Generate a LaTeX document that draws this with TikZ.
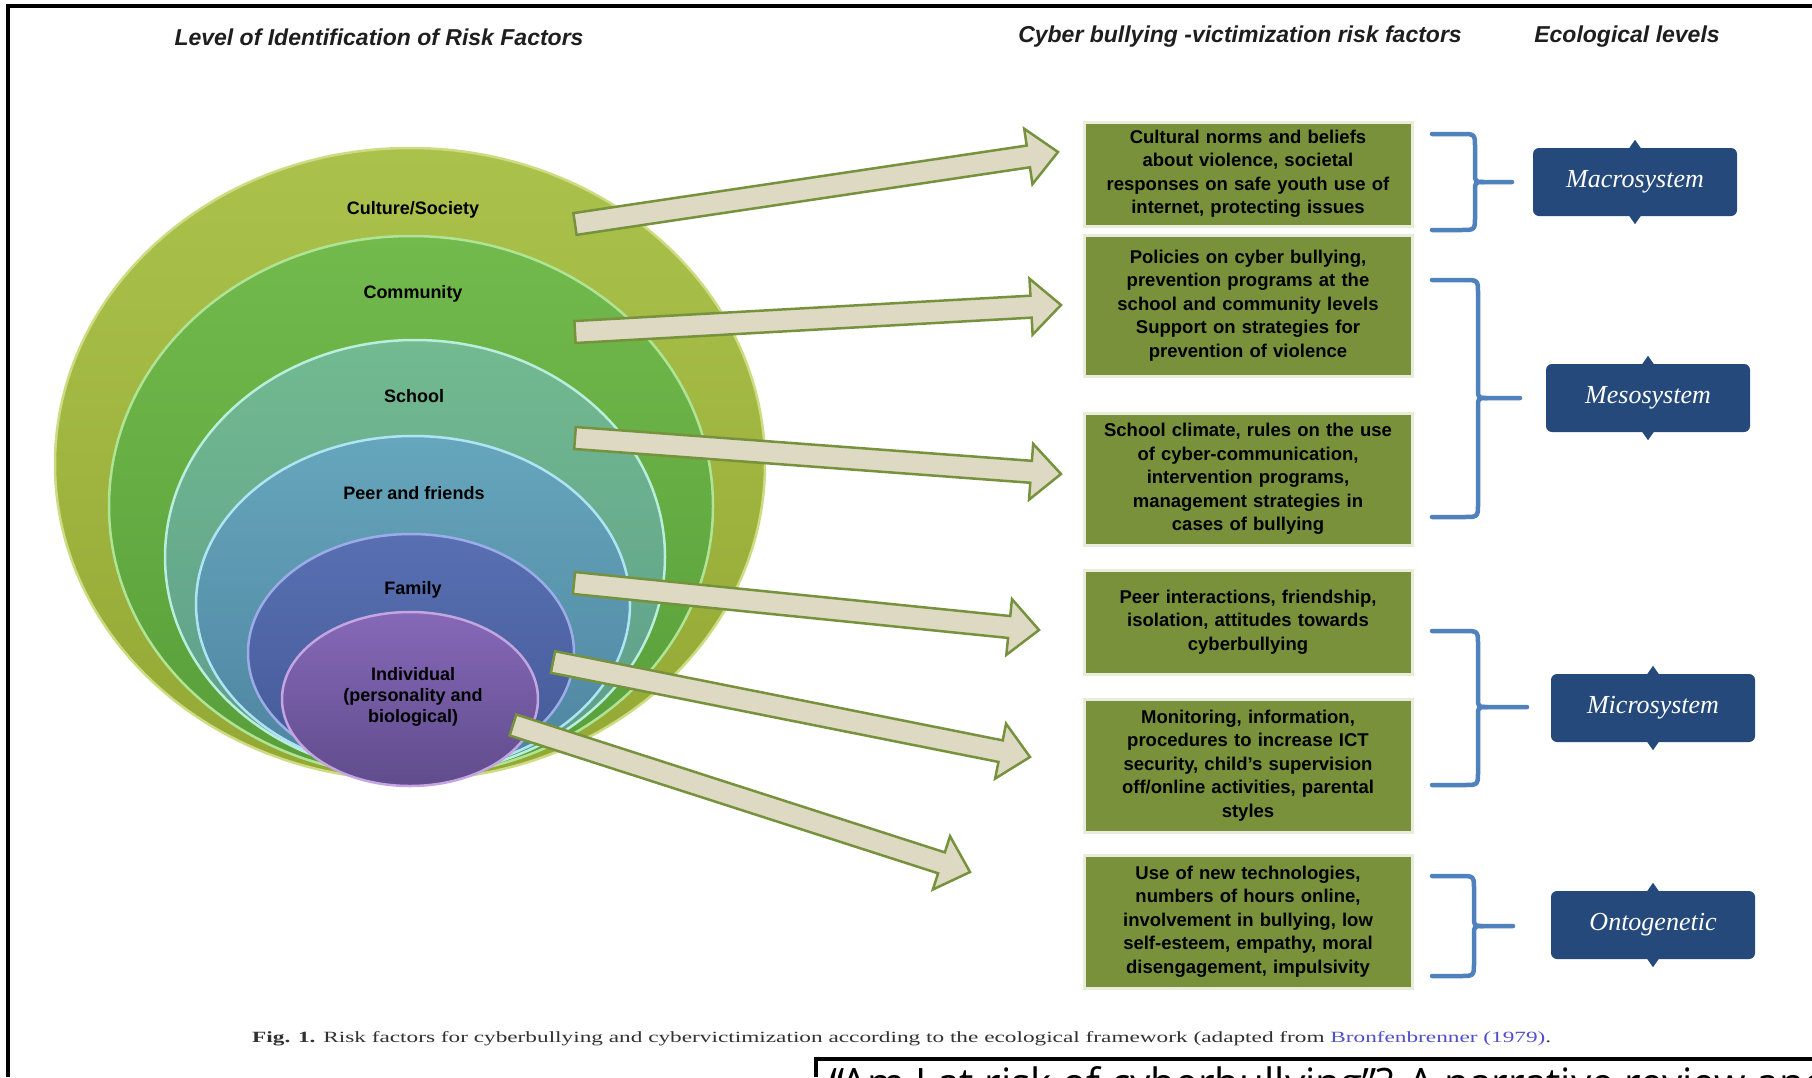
\documentclass[tikz,border=0pt]{standalone}
\usepackage{fontspec}
\setmainfont{Liberation Sans}
\newfontfamily\serifx{Liberation Serif}
\newfontfamily\opensans{Open Sans}
\usetikzlibrary{shapes.geometric,calc}
\definecolor{cAt}{RGB}{170,194,76}
\definecolor{cAb}{RGB}{148,168,52}
\definecolor{cAr}{RGB}{205,220,130}
\definecolor{cBt}{RGB}{114,186,76}
\definecolor{cBb}{RGB}{88,158,58}
\definecolor{cBr}{RGB}{175,228,150}
\definecolor{cCt}{RGB}{114,186,144}
\definecolor{cCb}{RGB}{92,156,138}
\definecolor{cCr}{RGB}{185,238,220}
\definecolor{cDt}{RGB}{102,166,188}
\definecolor{cDb}{RGB}{78,132,160}
\definecolor{cDr}{RGB}{175,228,245}
\definecolor{cEt}{RGB}{88,112,178}
\definecolor{cEb}{RGB}{68,88,150}
\definecolor{cEr}{RGB}{155,172,232}
\definecolor{cFt}{RGB}{134,104,184}
\definecolor{cFb}{RGB}{96,76,140}
\definecolor{cFr}{RGB}{195,165,225}
\definecolor{arrfill}{RGB}{221,217,195}
\definecolor{arrline}{RGB}{118,146,60}
\definecolor{boxgreen}{RGB}{121,145,59}
\definecolor{boxhalo}{RGB}{232,236,218}
\definecolor{navy}{RGB}{36,73,122}
\definecolor{braceblue}{RGB}{79,129,189}
\definecolor{titlegray}{RGB}{30,30,30}
\definecolor{capgray}{RGB}{50,50,50}
\definecolor{linkblue}{RGB}{80,80,200}
\newcommand\blockarrow[2]{%
  \coordinate (#2h) at ($(#2)!30pt!(#1)$);
  \draw[blockarr] ($(#1)!11pt!90:(#2)$) -- ($(#2h)!11pt!90:(#2)$) -- ($(#2h)!28pt!90:(#2)$) -- (#2)
    -- ($(#2h)!28pt!-90:(#2)$) -- ($(#2h)!11pt!-90:(#2)$) -- ($(#1)!11pt!-90:(#2)$) -- cycle;}
\newcommand\ebrace[6]{%
  \draw[brace] (#1,#3) -- ({#2-14},#3) .. controls (#2,#3) .. (#2,{#3+14}) -- (#2,{#4-9})
    .. controls (#2,#4) .. ({#2+9},#4) -- (#6,#4);
  \draw[brace] ({#2+9},#4) .. controls (#2,#4) .. (#2,{#4+9}) -- (#2,{#5-14})
    .. controls (#2,#5) .. ({#2-14},#5) -- (#1,#5);}
\newcommand\notches[1]{%
  \fill[navy] ($(#1.north)+(-7,2)$) -- ($(#1.north)+(0,-8)$) -- ($(#1.north)+(7,2)$) -- cycle;
  \fill[navy] ($(#1.south)+(-7,-2)$) -- ($(#1.south)+(0,8)$) -- ($(#1.south)+(7,-2)$) -- cycle;}
\begin{document}
\begin{tikzpicture}[x=1pt,y=-1pt,
  ell/.style={ellipse, inner sep=0pt, line width=2.5pt},
  lab/.style={font=\bfseries\fontsize{18}{21}\selectfont, text=black, align=center, inner sep=0pt},
  blockarr/.style={fill=arrfill, draw=arrline, line width=2.5pt, line join=miter},
  gbox/.style={fill=boxgreen, draw=boxhalo, line width=3pt, minimum width=328pt, text width=318pt,
    align=center, inner sep=0pt, font=\bfseries\fontsize{18.5}{23.5}\selectfont, text=black},
  bbox/.style={fill=navy, rounded corners=6pt, minimum width=204pt, minimum height=68pt, inner sep=0pt,
    text=white, font=\serifx\itshape\fontsize{26}{30}\selectfont},
  brace/.style={draw=braceblue, line width=4.5pt, line cap=round},
  title/.style={font=\bfseries\itshape\fontsize{23}{27}\selectfont, text=titlegray, inner sep=0pt}]
\clip (0,0) rectangle (1812,1077);
\fill[white] (0,0) rectangle (1812,1077);
% concentric ellipses
\node[ell, top color=cAt, bottom color=cAb, draw=cAr, minimum width=710pt, minimum height=632pt] (culture) at (410,464) {};
\node[ell, top color=cBt, bottom color=cBb, draw=cBr, minimum width=604pt, minimum height=540pt] (community) at (411,506) {};
\node[ell, top color=cCt, bottom color=cCb, draw=cCr, minimum width=500pt, minimum height=434pt] (school) at (415,557) {};
\node[ell, top color=cDt, bottom color=cDb, draw=cDr, minimum width=434pt, minimum height=336pt] (peer) at (413,604) {};
\node[ell, top color=cEt, bottom color=cEb, draw=cEr, minimum width=326pt, minimum height=238pt] (family) at (411,653) {};
\node[ell, top color=cFt, bottom color=cFb, draw=cFr, minimum width=256pt, minimum height=174pt] (individual) at (410,699) {};
\node[lab] (lculture) at (413,210) {Culture/Society};
\node[lab] (lcommunity) at (413,294) {Community};
\node[lab] (lschool) at (414,396) {School};
\node[lab] (lpeer) at (414,493) {Peer and friends};
\node[lab] (lfamily) at (413,590) {Family};
\node[lab] (lindividual) at (413,697) {Individual\\(personality and\\biological)};
% arrows
\coordinate (s1) at (575,224); \coordinate (t1) at (1058,152);
\coordinate (s2) at (575,332); \coordinate (t2) at (1061,305);
\coordinate (s3) at (575,438); \coordinate (t3) at (1061,474);
\coordinate (s4) at (574,583); \coordinate (t4) at (1039,630);
\coordinate (s5) at (553,662); \coordinate (t5) at (1030,757);
\coordinate (s6) at (513,725); \coordinate (t6) at (970,872);
\blockarrow{s1}{t1}
\blockarrow{s2}{t2}
\blockarrow{s3}{t3}
\blockarrow{s4}{t4}
\blockarrow{s5}{t5}
\blockarrow{s6}{t6}
% risk factor boxes
\node[gbox, minimum height=104pt] (r1) at (1248,174) {Cultural norms and beliefs\\about violence, societal\\responses on safe youth use of\\internet, protecting issues};
\node[gbox, minimum height=141pt] (r2) at (1248,305.5) {Policies on cyber bullying,\\prevention programs at the\\school and community levels\\Support on strategies for\\prevention of violence};
\node[gbox, minimum height=132pt] (r3) at (1248,479) {School climate, rules on the use\\of cyber-communication,\\intervention programs,\\management strategies in\\cases of bullying};
\node[gbox, minimum height=104pt] (r4) at (1248,622) {Peer interactions, friendship,\\isolation, attitudes towards\\cyberbullying};
\node[gbox, minimum height=133pt] (r5) at (1248,765.5) {Monitoring, information,\\procedures to increase ICT\\security, child's supervision\\off/online activities, parental\\styles};
\node[gbox, minimum height=133pt] (r6) at (1248,921.5) {Use of new technologies,\\numbers of hours online,\\involvement in bullying, low\\self-esteem, empathy, moral\\disengagement, impulsivity};
% braces
\ebrace{1432}{1475}{134}{182}{230}{1512}
\ebrace{1432}{1478}{280}{398}{517}{1520}
\ebrace{1432}{1478}{631}{707}{785}{1527}
\ebrace{1432}{1474}{876}{926}{976}{1513}
% ecological levels
\node[bbox] (macro) at (1635,182) {Macrosystem};
\node[bbox] (meso) at (1648,398) {Mesosystem};
\node[bbox] (micro) at (1653,708) {Microsystem};
\node[bbox] (onto) at (1653,925) {Ontogenetic};
\notches{macro}
\notches{meso}
\notches{micro}
\notches{onto}
% titles
\node[title] (h1) at (379,37) {Level of Identification of Risk Factors};
\node[title] (h2) at (1240,37) {Cyber bullying -victimization risk factors};
\node[title] (h3) at (1627,37) {Ecological levels};
% caption
\node[anchor=west, inner sep=0pt, text=capgray] (caption) at (252,1039) {\resizebox{1299pt}{11pt}{\serifx\fontsize{20}{24}\selectfont\textbf{Fig. 1.} Risk factors for cyberbullying and cybervictimization according to the ecological framework (adapted from \textcolor{linkblue}{Bronfenbrenner (1979)}.}};
% frames
\draw[line width=3.5pt] (8,1077) -- (8,6) -- (1812,6);
\draw[line width=3.5pt] (1812,1059) -- (816,1059) -- (816,1077);
\node[anchor=north west, inner sep=0pt, font=\opensans\fontsize{40.5}{46}\selectfont] (ref) at (830,1066) {“Am I at risk of cyberbullying”? A narrative review and};
\end{tikzpicture}
\end{document}
